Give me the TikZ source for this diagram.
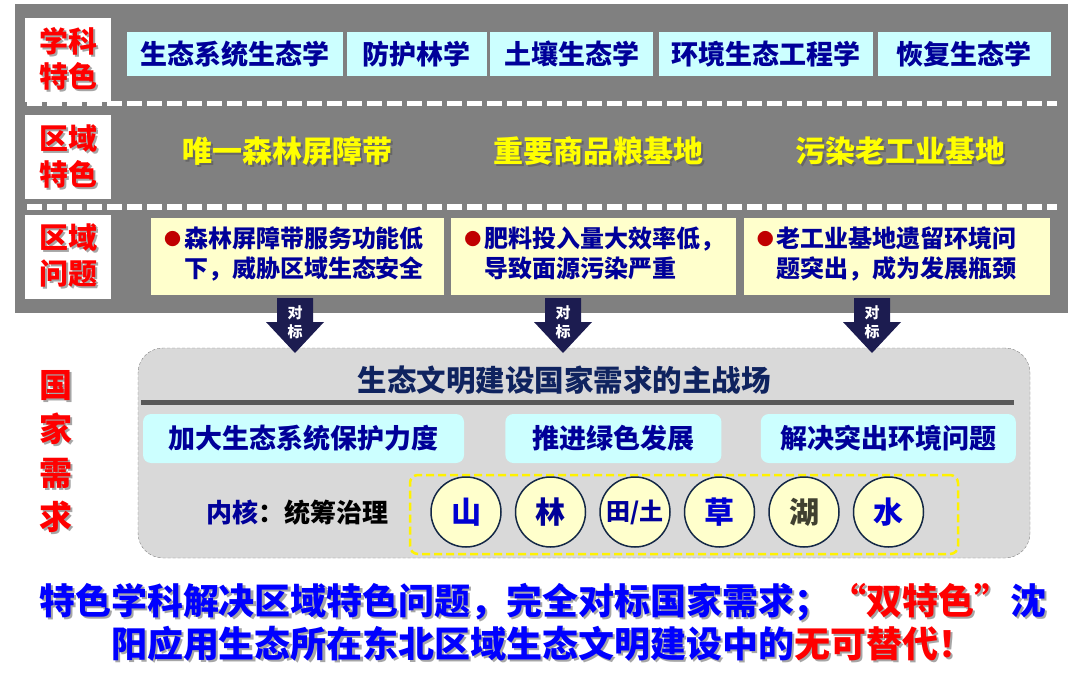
\documentclass[tikz,border=0pt]{standalone}
\usepackage{fontspec}
\setmainfont{Noto Sans CJK SC}
\usepackage{xcolor}
\usepackage{tikz}
\usetikzlibrary{positioning}

\definecolor{panelgray}{RGB}{128,128,128}
\definecolor{subjcyan}{RGB}{204,255,255}
\definecolor{probyellow}{RGB}{255,255,204}
\definecolor{deepblue}{RGB}{0,0,153}
\definecolor{brightblue}{RGB}{0,0,210}
\definecolor{arrownavy}{RGB}{28,28,80}
\definecolor{titlenavy}{RGB}{15,35,95}
\definecolor{bulletred}{RGB}{192,0,0}
\definecolor{arenagray}{RGB}{217,217,217}
\definecolor{rimnavy}{RGB}{20,40,70}
\definecolor{lakeolive}{RGB}{64,64,48}
\definecolor{sepgray}{RGB}{89,89,89}
\definecolor{goldtext}{RGB}{255,255,0}

\newcommand{\fsz}[2]{\fontsize{#1}{#2}\selectfont\bfseries}
\newcommand{\bul}{\textcolor{bulletred}{\raisebox{2.5pt}{\fontsize{17}{17}\selectfont ●}}}
\newcommand{\redpart}[1]{\textcolor{red}{#1}}
% text with a soft drop shadow
\newcommand{\softshadow}[2][black!35]{\makebox[0pt][l]{\hspace{2pt}\raisebox{-2pt}{\let\redpart\relax\color{#1}#2}}#2}

\tikzstyle{rowlabel} = [rectangle, fill=white,
    minimum width=86pt, minimum height=84pt, text=red, align=center, font=\fsz{29}{35.5}]
\tikzstyle{subject} = [rectangle, fill=subjcyan,
    minimum height=44pt, inner sep=0pt, text=deepblue, font=\fsz{27}{30}]
\tikzstyle{feature} = [text=goldtext, font=\fsz{30}{36}]
\tikzstyle{problem} = [rectangle, fill=probyellow,
    minimum height=77pt, inner xsep=13pt, align=left, text=deepblue, font=\fsz{24}{30}]
\tikzstyle{dashrule} = [draw=white, line width=5pt, dash pattern=on 15pt off 5pt]
\tikzstyle{tagtext} = [text=white, align=center, inner sep=0pt, font=\fsz{15}{19}]
\tikzstyle{arena} = [rectangle, rounded corners=25pt, fill=arenagray, draw=gray, densely dashed, thin,
    minimum width=892pt, minimum height=210pt]
\tikzstyle{task} = [rectangle, rounded corners=8pt, fill=subjcyan,
    minimum height=49pt, inner sep=0pt, text=deepblue, font=\fsz{27}{32}]
\tikzstyle{coreframe} = [rectangle, rounded corners=8pt, draw=yellow, line width=2.5pt,
    dash pattern=on 8pt off 4pt, minimum width=548pt, minimum height=79pt]
\tikzstyle{element} = [circle, draw=rimnavy, line width=1.5pt, fill=probyellow,
    minimum size=70pt, inner sep=0pt, text=deepblue, font=\fsz{30}{34}]
\tikzstyle{slogan} = [text=blue, align=center, font=\fsz{36}{43}]

\begin{document}
\begin{tikzpicture}[x=1pt, y=-1pt]
    \path[use as bounding box, fill=white] (0,0) rectangle (1085,690);
    % upper panel
    \fill[panelgray] (15,4) rectangle (1068,313);
    \draw[dashrule] (27,103.5) -- (1057,103.5);
    \draw[dashrule] (27,207) -- (1057,207);

    \node [rowlabel] (lab1) at (68,60) {\softshadow{学科}\\\softshadow{特色}};
    \node [rowlabel] (lab2) at (68,157.5) {\softshadow{区域}\\\softshadow{特色}};
    \node [rowlabel] (lab3) at (68,256.5) {\softshadow{区域}\\\softshadow{问题}};

    \node [subject, minimum width=216pt] (eco) at (235,54) {生态系统生态学};
    \node [subject, minimum width=140pt, right=3.5pt of eco] (shelter) {防护林学};
    \node [subject, minimum width=163pt, right=3pt of shelter] (soil) {土壤生态学};
    \node [subject, minimum width=214pt, right=5pt of soil] (envir) {环境生态工程学};
    \node [subject, minimum width=173pt, right=4.5pt of envir] (restore) {恢复生态学};

    \node [feature] (forest) at (287,152.5) {\softshadow[black!60]{唯一森林屏障带}};
    \node [feature] (grain) at (598,152.5) {\softshadow[black!60]{重要商品粮基地}};
    \node [feature] (industry) at (900,152.5) {\softshadow[black!60]{污染老工业基地}};

    \node [problem, text width=267pt] (prob1) at (297.5,256.5)
        {\begin{tabular}{@{}l@{\hspace{3pt}}l@{}}\bul & 森林屏障带服务功能低\\ & 下，威胁区域生态安全\end{tabular}};
    \node [problem, text width=259pt, right=7pt of prob1] (prob2)
        {\begin{tabular}{@{}l@{\hspace{3pt}}l@{}}\bul & 肥料投入量大效率低，\\ & 导致面源污染严重\end{tabular}};
    \node [problem, text width=280pt, right=7pt of prob2] (prob3)
        {\begin{tabular}{@{}l@{\hspace{3pt}}l@{}}\bul & 老工业基地遗留环境问\\ & 题突出，成为发展瓶颈\end{tabular}};

    % national demand
    \node [text=red, align=center, font=\fsz{33}{44}] (nation) at (55.5,453)
        {\softshadow{国}\\\softshadow{家}\\\softshadow{需}\\\softshadow{求}};
    \node [arena] (arena) at (584,453) {};
    \node [text=titlenavy, font=\fsz{29.5}{32}] (arenatitle) at (564,380) {生态文明建设国家需求的主战场};
    \draw[sepgray, line width=4.5pt] (141,402.5) -- (1014,402.5);

    \node [task, minimum width=321pt] (protect) at (303.5,438.5) {加大生态系统保护力度};
    \node [task, minimum width=216pt, right=41pt of protect] (green) {推进绿色发展};
    \node [task, minimum width=255pt, right=39pt of green] (solve) {解决突出环境问题};

    \node [font=\fsz{26}{30}] (core) at (297,513) {\textcolor{deepblue}{内核}：统筹治理};
    \node [coreframe] (frame) at (684,514.5) {};
    \node [element, text=brightblue] (shan) at (466,512) {山};
    \node [element, right=13pt of shan] (lin) {林};
    \node [element, right=13pt of lin, font=\fsz{24}{28}] (tian) {田/土};
    \node [element, text=brightblue, right=13pt of tian] (cao) {草};
    \node [element, text=lakeolive, right=13pt of cao] (hu) {湖};
    \node [element, text=brightblue, right=13pt of hu] (shui) {水};

    % benchmark arrows
    \foreach \ax [count=\i] in {295,563,872} {
        \fill[arrownavy] (\ax-18,298) -- (\ax+18,298) -- (\ax+18,322) -- (\ax+29,322)
            -- (\ax,353) -- (\ax-29,322) -- (\ax-18,322) -- cycle;
        \node [tagtext] (tag\i) at (\ax,322) {对\\标};
    }

    \node [slogan] (slogan) at (543,623.5)
        {\softshadow{特色学科解决区域特色问题，完全对标国家需求；\redpart{“双特色”}沈}\\
         \softshadow{阳应用生态所在东北区域生态文明建设中的\redpart{无可替代！}}};
\end{tikzpicture}
\end{document}
